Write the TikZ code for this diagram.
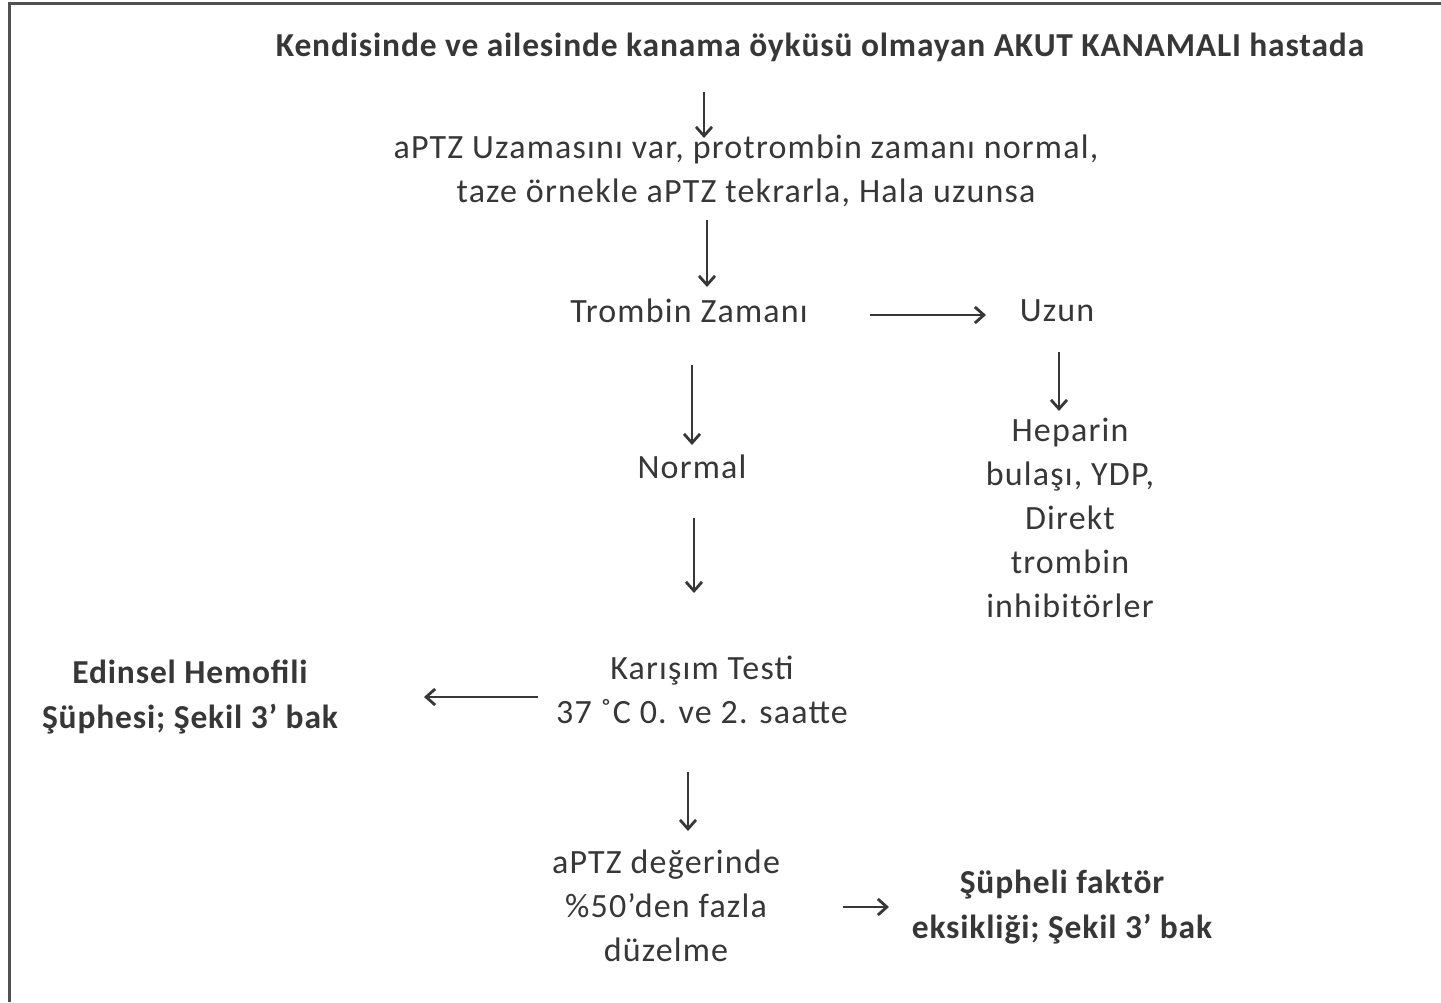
\documentclass[tikz,border=0pt]{standalone}
\usepackage{fontspec}
\setmainfont{Carlito}
\newfontfamily\lblfont[LetterSpace=3.5]{Carlito}
\newfontfamily\blblfont[LetterSpace=2.5]{Carlito}
\usetikzlibrary{arrows.meta}
\definecolor{txt}{RGB}{55,55,55}
\definecolor{frm}{RGB}{80,80,80}
\tikzset{
  lbl/.style={inner sep=0pt, align=center, text=txt, font=\lblfont\fontsize{34}{44}\selectfont},
  blbl/.style={inner sep=0pt, align=center, text=txt, font=\blblfont\fontsize{33.5}{45}\selectfont\bfseries},
  arr/.style={draw=txt, line width=2.8pt, -{Straight Barb[length=9pt,width=16pt,line width=2.8pt]}}
}
\begin{document}
\begin{tikzpicture}[x=1pt,y=-1pt]
\useasboundingbox (0,0) rectangle (1441,1002);
\fill[white] (0,0) rectangle (1441,1002);
\draw[frm, line width=3pt] (9,1002) -- (9,3) -- (1441,3);

\node[blbl] (title) at (820,47) {Kendisinde ve ailesinde kanama öyküsü olmayan AKUT KANAMALI hastada};
\node[lbl] (aptz) at (746,171) {aPTZ Uzamasını var, protrombin zamanı normal,\\taze örnekle aPTZ tekrarla, Hala uzunsa};
\node[lbl] (tz) at (689,311) {Trombin Zamanı};
\node[lbl] (uzun) at (1057,311) {Uzun};
\node[lbl] (hep) at (1070,518) {Heparin\\bulaşı, YDP,\\Direkt\\trombin\\inhibitörler};
\node[lbl] (normal) at (692,467) {Normal};
\node[lbl] (kar) at (702,690) {Karışım Testi\\37 ˚C 0. ve 2. saatte};
\node[blbl] (edin) at (190,697) {Edinsel Hemofili\\Şüphesi; Şekil 3’ bak};
\node[lbl] (duz) at (666,906) {aPTZ değerinde\\\%50’den fazla\\düzelme};
\node[blbl] (sup) at (1062,907) {Şüpheli faktör\\eksikliği; Şekil 3’ bak};

\coordinate (a1s) at (704,92);   \coordinate (a1e) at (704,138);
\coordinate (a2s) at (707,220);  \coordinate (a2e) at (707,287);
\coordinate (a3s) at (870,315);  \coordinate (a3e) at (986,315);
\coordinate (a4s) at (1059,352); \coordinate (a4e) at (1059,411);
\coordinate (a5s) at (692,365);  \coordinate (a5e) at (692,445);
\coordinate (a6s) at (694,518);  \coordinate (a6e) at (694,593);
\coordinate (a7s) at (538,697);  \coordinate (a7e) at (424,697);
\coordinate (a8s) at (688,772);  \coordinate (a8e) at (688,831);
\coordinate (a9s) at (843,907);  \coordinate (a9e) at (889,907);

\draw[arr] (a1s) -- (a1e);
\draw[arr] (a2s) -- (a2e);
\draw[arr] (a3s) -- (a3e);
\draw[arr] (a4s) -- (a4e);
\draw[arr] (a5s) -- (a5e);
\draw[arr] (a6s) -- (a6e);
\draw[arr] (a7s) -- (a7e);
\draw[arr] (a8s) -- (a8e);
\draw[arr] (a9s) -- (a9e);
\end{tikzpicture}
\end{document}
